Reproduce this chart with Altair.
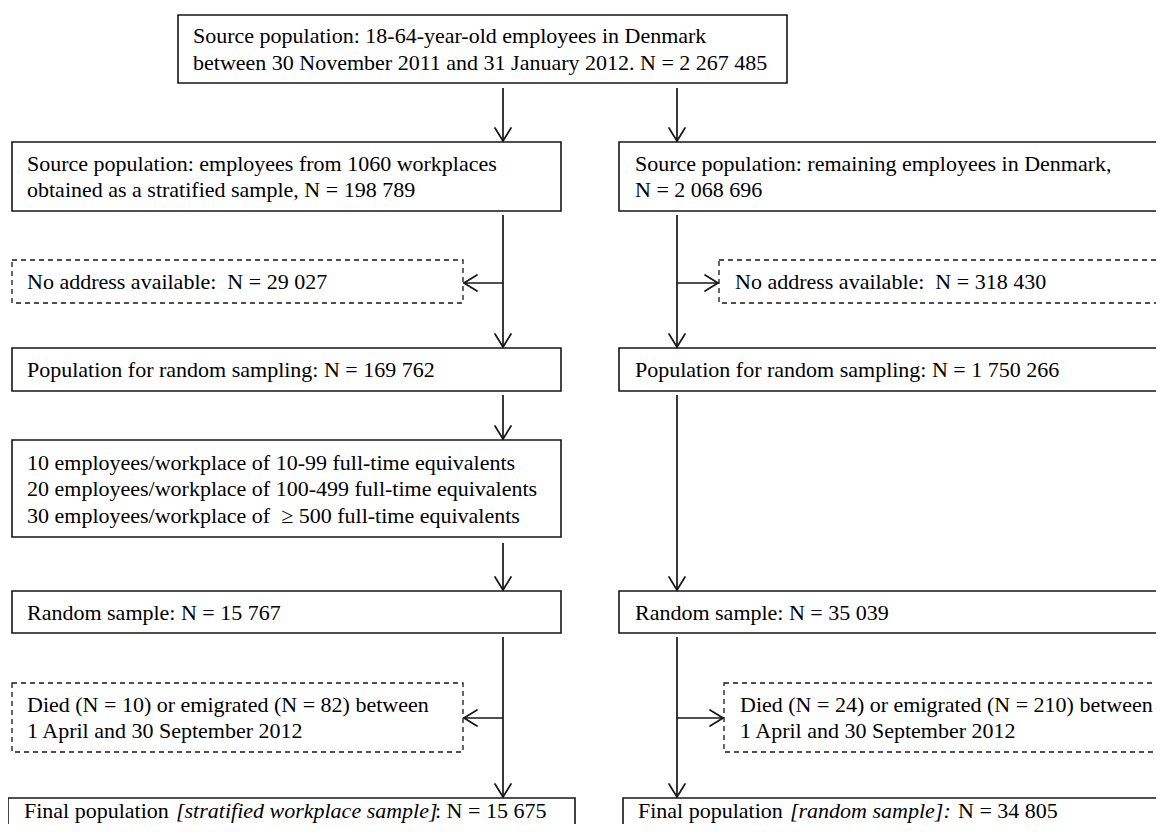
import altair as alt
import pandas as pd

# ---------------- text content ----------------
source_text = ["Source population: 18-64-year-old employees in Denmark",
               "between 30 November 2011 and 31 January 2012. N = 2 267 485"]
left_texts = [
    ["Source population: employees from 1060 workplaces",
     "obtained as a stratified sample, N = 198 789"],
    ["No address available:\u00a0 N = 29 027"],
    ["Population for random sampling: N = 169 762"],
    ["10 employees/workplace of 10-99 full-time equivalents",
     "20 employees/workplace of 100-499 full-time equivalents",
     "30 employees/workplace of \u00a0\u2265 500 full-time equivalents"],
    ["Random sample: N = 15 767"],
    ["Died (N = 10) or emigrated (N = 82) between",
     "1 April and 30 September 2012"],
]
right_texts = [
    ["Source population: remaining employees in Denmark,", "N = 2 068 696"],
    ["No address available:\u00a0 N = 318 430"],
    ["Population for random sampling: N = 1 750 266"],
    ["Random sample: N = 35 039"],
    ["Died (N = 24) or emigrated (N = 210) between",
     "1 April and 30 September 2012"],
]
final_left = ["Final population", "[stratified workplace sample]", ": N = 15 675"]
final_right = ["Final population", "[random sample]:", "N = 34 805"]

# ---------------- layout (page pixel coordinates) ----------------
W, H = 1148, 816
FONT, FS = "Liberation Serif", 22
INK = "#161616"

# boxes: (x0, x1, y0, y1, dashed, text lines, text x)
boxes = [
    (178, 787, 15, 83, False, source_text, 193),
    (12, 561, 142, 211, False, left_texts[0], 27),
    (619, 1300, 142, 211, False, right_texts[0], 635),
    (12, 463, 260, 303, True, left_texts[1], 27),
    (719, 1300, 260, 303, True, right_texts[1], 735),
    (12, 561, 348, 391, False, left_texts[2], 27),
    (619, 1300, 348, 391, False, right_texts[2], 635),
    (12, 561, 440, 537, False, left_texts[3], 27),
    (12, 561, 591, 633, False, left_texts[4], 27),
    (619, 1300, 591, 633, False, right_texts[3], 635),
    (12, 463, 683, 752, True, left_texts[5], 27),
    (724, 1300, 683, 752, True, right_texts[4], 740),
    (8, 575, 798, 900, False, [], 24),
    (623, 1300, 798, 900, False, [], 638),
]

rect_rows, text_rows = [], []
for x0, x1, y0, y1, dashed, lines, tx in boxes:
    rect_rows.append(dict(x0=x0, x1=x1, y0=y0, y1=y1, dashed=dashed))
    n = len(lines)
    h = y1 - y0
    step = 26.5
    first = y0 + h / 2 - (n - 1) * step / 2 + 7.5
    for i, ln in enumerate(lines):
        text_rows.append(dict(x=tx, y=first + i * step, t=ln))

# final population lines (mixed italic)
ital_rows = []
fl_x = [24, 176, 435]
fr_x = [638, 790, 958]
for segs, xs_ in ((final_left, fl_x), (final_right, fr_x)):
    for k, (s, xx) in enumerate(zip(segs, xs_)):
        row = dict(x=xx, y=818, t=s)
        if k == 1:
            ital_rows.append(row)
        else:
            text_rows.append(row)

rects = pd.DataFrame(rect_rows)
texts = pd.DataFrame(text_rows)
itals = pd.DataFrame(ital_rows)

# connectors
segments = [
    (503, 88, 503, 141), (677, 88, 677, 141),
    (503, 215, 503, 347), (677, 215, 677, 347),
    (503, 283, 464, 283), (677, 283, 718, 283),
    (503, 395, 503, 439), (677, 395, 677, 590),
    (503, 543, 503, 590),
    (503, 637, 503, 797), (677, 637, 677, 797),
    (503, 718, 464, 718), (677, 718, 723, 718),
]
tips = [
    (503, 141, "down"), (677, 141, "down"), (503, 347, "down"), (677, 347, "down"),
    (464, 283, "left"), (718, 283, "right"), (503, 439, "down"), (677, 590, "down"),
    (503, 590, "down"), (503, 797, "down"), (677, 797, "down"),
    (464, 718, "left"), (723, 718, "right"),
]
seg_rows = [dict(x=a, y=b, x2=c, y2=d) for a, b, c, d in segments]
barb_rows = []
L, S = 13, 8
for tx, ty, d in tips:
    if d == "down":
        ends = [(tx - S, ty - L), (tx + S, ty - L)]
    elif d == "left":
        ends = [(tx + L, ty - S), (tx + L, ty + S)]
    else:
        ends = [(tx - L, ty - S), (tx - L, ty + S)]
    for ex, ey in ends:
        barb_rows.append(dict(x=ex, y=ey, x2=tx, y2=ty))
segs = pd.DataFrame(seg_rows)
barbs = pd.DataFrame(barb_rows)

xs = alt.Scale(domain=[8, 8 + W], nice=False, zero=False)
ys = alt.Scale(domain=[8, 8 + H], nice=False, zero=False, reverse=True)

def XY(xf="x", yf="y"):
    return dict(x=alt.X(f"{xf}:Q", scale=xs, axis=None),
                y=alt.Y(f"{yf}:Q", scale=ys, axis=None))

solid = alt.Chart(rects[~rects.dashed]).mark_rect(
    fill="white", stroke=INK, strokeWidth=1.6, clip=True
).encode(**XY("x0", "y0"), x2="x1:Q", y2="y1:Q")

dashed = alt.Chart(rects[rects.dashed]).mark_rect(
    fill="white", stroke=INK, strokeWidth=1.3, strokeDash=[5, 4], clip=True
).encode(**XY("x0", "y0"), x2="x1:Q", y2="y1:Q")

lines_ = alt.Chart(segs).mark_rule(color=INK, strokeWidth=1.7, clip=True).encode(
    **XY(), x2="x2:Q", y2="y2:Q")
arrow = alt.Chart(barbs).mark_rule(color=INK, strokeWidth=1.7, strokeCap="round", clip=True).encode(
    **XY(), x2="x2:Q", y2="y2:Q")

txt = alt.Chart(texts).mark_text(
    align="left", baseline="alphabetic", font=FONT, fontSize=FS, color="black", clip=True
).encode(**XY(), text="t:N")
itx = alt.Chart(itals).mark_text(
    align="left", baseline="alphabetic", font=FONT, fontSize=FS, fontStyle="italic",
    color="black", clip=True
).encode(**XY(), text="t:N")

chart = alt.layer(lines_, arrow, solid, dashed, txt, itx).properties(
    width=W, height=H, padding=0,
    autosize=alt.AutoSizeParams(type="none"),
    background="white",
).configure_view(stroke=None)

chart.save("out.html", embed_options={"renderer": "svg", "actions": False})
